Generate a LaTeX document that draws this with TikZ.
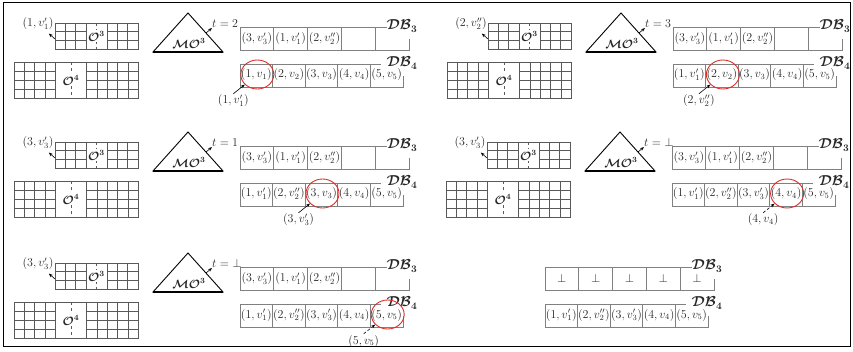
\documentclass[tikz,border=0pt]{standalone}
\usepackage{amsmath,amssymb}
\usepackage{xcolor}
\usepackage{tikz}
\usetikzlibrary{arrows.meta,shapes.geometric}
\definecolor{ringred}{RGB}{222,45,38}

\begin{document}
\begin{tikzpicture}[x=1pt,y=-1pt,every node/.style={font=\large,text=black!85},
  gline/.style={draw=black!65,line width=0.6pt},
  dline/.style={draw=black!50,line width=0.7pt},
  arr/.style={-{Stealth[length=4pt,width=3pt]},line width=0.6pt},
  cell/.style={inner sep=1pt},
  olab/.style={fill=white,inner sep=0.5pt},
  ring/.style={draw=ringred,ellipse,line width=0.9pt,minimum width=33pt,minimum height=29pt,inner sep=0pt},
  pics/ogrid/.style args={#1/#2/#3/#4/#5/#6}{code={
    \draw[gline] (0,0) rectangle (#1*10.36,#2*#3);
    \foreach \i in {1,...,#4} \draw[gline] (\i*10.36,0) -- (\i*10.36,#2*#3);
    \foreach \i in {#5,...,#1} \draw[gline] (\i*10.36,0) -- (\i*10.36,#2*#3);
    \foreach \j in {1,...,#2} \draw[gline] (0,\j*#3) -- (#4*10.36,\j*#3) (#5*10.36,\j*#3) -- (#1*10.36,\j*#3);
    \draw[gline,dash pattern=on 3pt off 3pt] ({(#4+#5)*5.18},0) -- ({(#4+#5)*5.18},#2*#3);
    \node[olab] (-lab) at ({(#4+#5)*5.18},#2*#3/2) {$\boldsymbol{\mathcal{O}}^{\boldsymbol{#6}}$};
  }},
  pics/dbrow/.style args={#1/#2}{code={
    \draw[dline] (5*#1-22,0) -- (0,0) -- (0,23) -- (5*#1,23) -- (5*#1,12);
    \foreach \i in {1,...,4} \draw[dline] (\i*#1,0) -- (\i*#1,23);
    \node[font=\Large] (-lab) at (162,-1) {$\boldsymbol{\mathcal{DB}}_{\boldsymbol{#2}}$};
  }}]
\useasboundingbox (0,0) rectangle (853,352);
\draw[line width=1pt] (3,3) rectangle (850,346);
% one panel per step
\foreach \k/\dx/\dy/\tv/\on/\ov/\ls in {1/0/0/2/1/v_1'/solid,2/433/0/3/2/v_2''/solid,
  3/0/119/1/3/v_3'/solid,4/432/119/\bot/3/v_3'/densely dashed,5/0/240/\bot/3/v_3'/densely dashed}{
\begin{scope}[shift={(\dx,\dy)}]
  \pic (g\k) at (55,23) {ogrid=8/3/8.67/3/5/3};
  \pic (h\k) at (14,62) {ogrid=12/4/9/4/7/4};
  \coordinate (a\k) at (55,39);
  \node (o\k) at (38,24) {$(\on,\ov)$};
  \draw[arr] (a\k) -- (o\k);
  \draw[line width=0.9pt] (188,13) -- (153,52) -- (223,52) -- cycle;
  \draw[line width=2pt] (153,52) -- (223,52);
  \node (m\k) at (189,43) {$\boldsymbol{\mathcal{MO}}^{\boldsymbol{3}}$};
  \coordinate (s\k) at (206,33);
  \node[anchor=south west,inner sep=0pt] (t\k) at (212,28) {$t=\tv$};
  \draw[arr] (s\k) -- (t\k.south west);
  \pic (x\k) at (240,27) {dbrow=33.8/3};
  \pic (y\k) at (240,64) {dbrow=32.6/4};
  \foreach \j/\dv in {1/{(3,v_3')},2/{(1,v_1')},3/{(2,v_2'')}}
    \node[cell] (d\k\j) at (223.1+\j*33.8,38.5) {$\dv$};
  \foreach \j/\pv in {1/v_1',2/v_2'',3/v_3',4/v_4,5/v_5}{
    \ifnum\j<\k \node[cell] (e\k\j) at (223.7+\j*32.6,75) {$(\j,\pv)$};
    \else \node[cell] (e\k\j) at (223.7+\j*32.6,75) {$(\j,v_\j)$}; \fi
    \ifnum\j=\k
      \node[ring] (r\k) at (224.7+\j*32.6,74.5) {};
      \node[cell] (c\k) at (200.7+\j*32.6,101) {$(\j,\pv)$};
      \draw[arr,\ls] (c\k.north) -- (r\k);
    \fi}
\end{scope}}
% final state
\begin{scope}[shift={(305,240)}]
  \pic (x6) at (240,27) {dbrow=33.8/3};
  \pic (y6) at (240,64) {dbrow=32.6/4};
  \foreach \j in {1,...,5}
    \node[cell] (d6\j) at (223.1+\j*33.8,38.5) {$\bot$};
  \foreach \j/\pv in {1/v_1',2/v_2'',3/v_3',4/v_4,5/v_5}
    \node[cell] (e6\j) at (223.7+\j*32.6,75) {$(\j,\pv)$};
\end{scope}
\end{tikzpicture}
\end{document}
